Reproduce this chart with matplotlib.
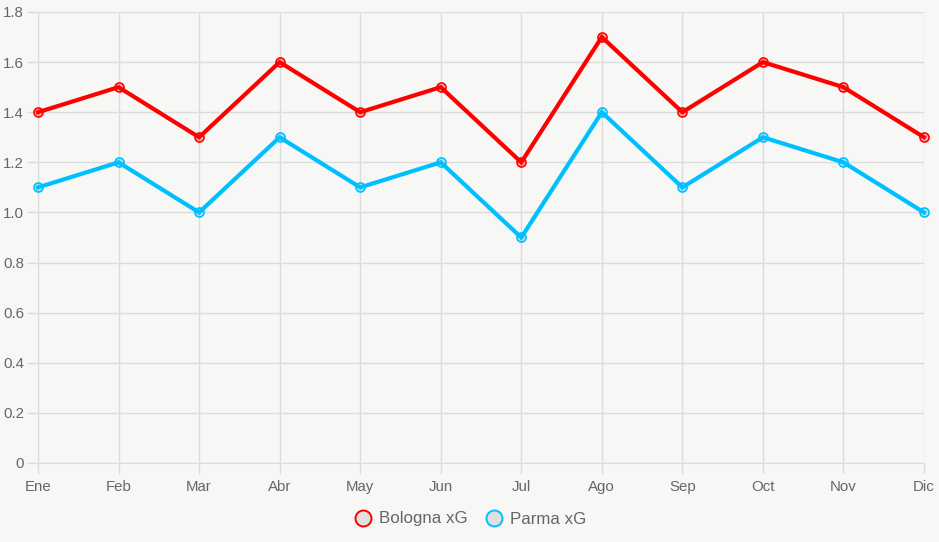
import numpy as np
import matplotlib.pyplot as plt
from matplotlib.lines import Line2D

plt.rcParams['font.family'] = ['Liberation Sans', 'DejaVu Sans']

months = ['Ene', 'Feb', 'Mar', 'Abr', 'May', 'Jun', 'Jul', 'Ago', 'Sep', 'Oct', 'Nov', 'Dic']
bologna = [1.4, 1.5, 1.3, 1.6, 1.4, 1.5, 1.2, 1.7, 1.4, 1.6, 1.5, 1.3]
parma = [1.1, 1.2, 1.0, 1.3, 1.1, 1.2, 0.9, 1.4, 1.1, 1.3, 1.2, 1.0]
y_ticks = [0, 0.2, 0.4, 0.6, 0.8, 1.0, 1.2, 1.4, 1.6, 1.8]
y_labels = ['0', '0.2', '0.4', '0.6', '0.8', '1.0', '1.2', '1.4', '1.6', '1.8']

bg = '#f7f7f5'
grid_c = '#dcdcdc'
text_c = '#666666'

fig = plt.figure(figsize=(9.39, 5.42), dpi=100, facecolor=bg)
ax = fig.add_axes([38 / 939, 1 - 463 / 542, (924 - 38) / 939, (463 - 12) / 542])
ax.set_facecolor(bg)

x = np.arange(len(months))
series = [('Bologna xG', bologna, '#ff0000', (1, 0, 0, 0.25)),
          ('Parma xG', parma, '#00bfff', (0, 0.75, 1, 0.25))]
for name, vals, col, fill in series:
    ax.plot(x, vals, color=col, lw=3, zorder=3, solid_joinstyle='miter', clip_on=False)
    ax.plot(x, vals, ls='none', marker='o', ms=6.5, mfc=fill, mec=col, mew=1.2, zorder=4, clip_on=False)

ax.set_xlim(0, len(months) - 1)
ax.set_ylim(0, 1.8)
ax.set_xticks(x)
ax.set_xticklabels(months)
ax.set_yticks(y_ticks)
ax.set_yticklabels(y_labels)
ax.grid(True, color=grid_c, lw=1)
ax.set_axisbelow(True)
ax.tick_params(colors=grid_c, labelcolor=text_c, labelsize=10.8, length=8, width=1)
ax.tick_params(axis='x', pad=4)
ax.tick_params(axis='y', pad=2)
for s in ['top', 'right']:
    ax.spines[s].set_visible(False)
for s in ['left', 'bottom']:
    ax.spines[s].set_color(grid_c)

handles = [Line2D([], [], ls='none', marker='o', ms=11.5, mfc='#e0e0e0', mec=col, mew=1.4, label=name)
           for name, vals, col, fill in series]
fig.legend(handles=handles, loc='center', bbox_to_anchor=(0.5, 1 - 519 / 542), ncol=2, frameon=False,
           fontsize=12.2, labelcolor=text_c, handletextpad=0.3, columnspacing=1.0, handlelength=1.2)

fig.savefig('out.png', dpi=100, facecolor=bg)
